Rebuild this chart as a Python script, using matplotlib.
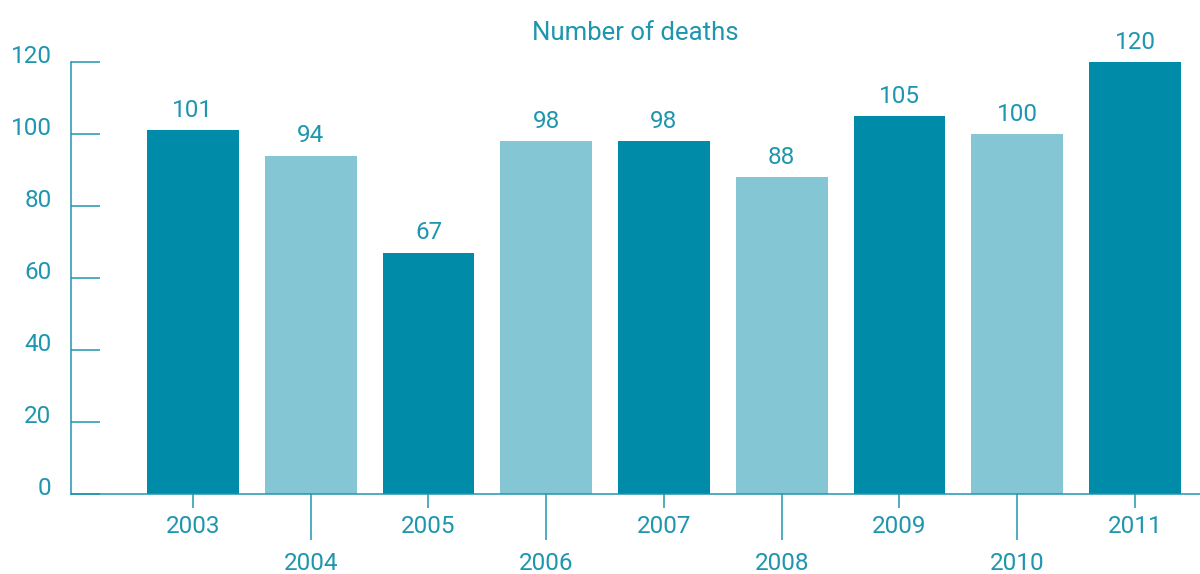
import matplotlib
matplotlib.use("Agg")
import matplotlib.pyplot as plt
import matplotlib.transforms as mtransforms

plt.rcParams["font.family"] = ["Roboto", "DejaVu Sans"]

years = ["2003", "2004", "2005", "2006", "2007", "2008", "2009", "2010", "2011"]
deaths = [101, 94, 67, 98, 98, 88, 105, 100, 120]
yticks = [0, 20, 40, 60, 80, 100, 120]

dark = "#008ca8"
light = "#84c6d4"
txt = "#1e96ae"

colors = [dark if i % 2 == 0 else light for i in range(len(years))]
x = list(range(len(years)))

fig = plt.figure(figsize=(12, 5.74), dpi=100)
ax = fig.add_axes([71 / 1200, 1 - 494 / 574, 1 - 71 / 1200, (494 - 62) / 574])

ax.bar(x, deaths, width=0.78, color=colors, zorder=2)
for xi, v in zip(x, deaths):
    ax.annotate(str(v), (xi, v), xytext=(0, 6), textcoords="offset points",
                ha="center", va="bottom", fontsize=17.5, color=txt)

ax.set_xlim(-1.036, 8.552)
ax.set_ylim(0, 120)

for s in ["top", "right"]:
    ax.spines[s].set_visible(False)
for s in ["left", "bottom"]:
    ax.spines[s].set_color(txt)
    ax.spines[s].set_linewidth(1.1)

# y axis: inward ticks, labels nudged up a little
ax.set_yticks(yticks)
ax.set_yticklabels([str(t) for t in yticks])
ax.tick_params(axis="y", direction="in", length=21, width=1.1, color=txt,
               labelcolor=txt, labelsize=17.5, pad=14)
shift = mtransforms.ScaledTranslation(0, 8 / 100, fig.dpi_scale_trans)
for lab in ax.get_yticklabels():
    lab.set_transform(lab.get_transform() + shift)

# x axis: odd years short ticks, even years long ticks (staggered labels)
ax.set_xticks(x[0::2])
ax.set_xticklabels(years[0::2])
ax.set_xticks(x[1::2], minor=True)
ax.set_xticklabels(years[1::2], minor=True)
ax.tick_params(axis="x", which="major", direction="out", length=10, width=1.1,
               color=txt, labelcolor=txt, labelsize=17.5, pad=5)
ax.tick_params(axis="x", which="minor", direction="out", length=33, width=1.1,
               color=txt, labelcolor=txt, labelsize=17.5, pad=9)

ax.set_title("Number of deaths", fontsize=18.5, color=txt, pad=16)

fig.savefig("out.png", dpi=100)
